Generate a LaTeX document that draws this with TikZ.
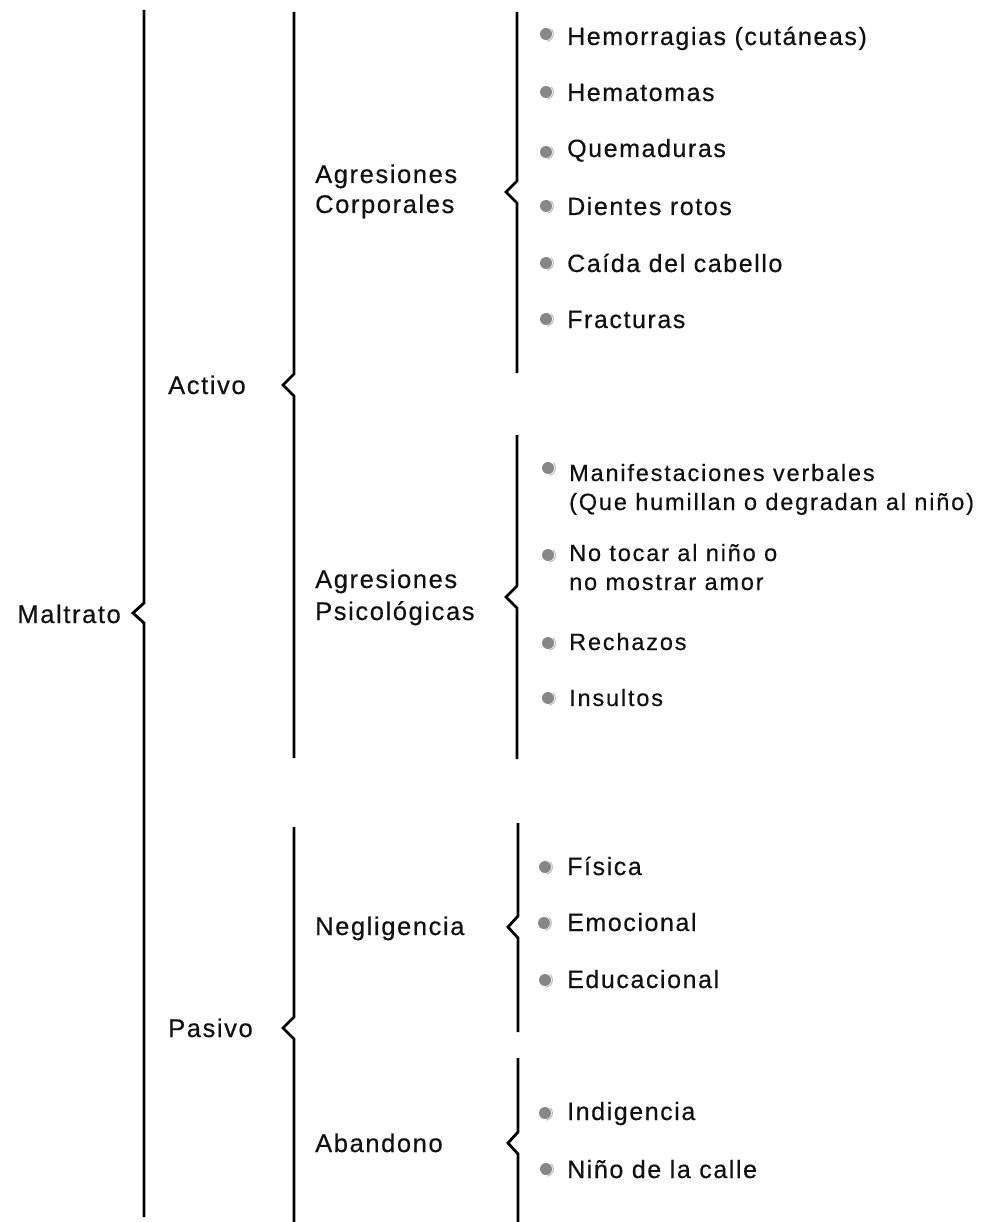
\documentclass[tikz,border=0pt]{standalone}
\usepackage{fontspec}
\newfontfamily\mf{Liberation Sans}[LetterSpace=6.3, FakeBold=0.5]
\newfontfamily\pf{Liberation Sans}[LetterSpace=7.8, FakeBold=0.5]
\definecolor{bulletgray}{HTML}{878787}
\definecolor{rimgray}{HTML}{BEBEBE}
\definecolor{inkc}{HTML}{111111}
\tikzset{
  bracel/.style={line width=2.8pt, line join=miter, draw=black},
  lbl/.style={anchor=base west, inner sep=0pt, text=inkc, font=\mf\fontsize{25.5}{30}\selectfont},
  itm/.style={anchor=base west, inner sep=0pt, text=inkc, font=\mf\fontsize{25}{30}\selectfont},
  pitm/.style={anchor=base west, inner sep=0pt, text=inkc, font=\pf\fontsize{23.5}{29}\selectfont},
  bul/.style={circle, fill=bulletgray, inner sep=0pt, minimum size=12pt},
  rimst/.style={draw=rimgray, line width=1.1pt}
}
\newcommand\bulat[3]{%
  \node[bul] (#1) at (#2,#3) {};
  \draw[rimst] (#1.center) ++(-45:7.4) arc[start angle=-45, end angle=80, radius=7.4];
}
\begin{document}
\begin{tikzpicture}[x=1pt,y=-1pt]
\useasboundingbox (0,0) rectangle (986,1222);

% ---- level 1
\node[lbl, anchor=base east] (maltrato) at (121,623) {Maltrato};
\draw[bracel] (144,10) -- (144,603) -- (133,613) -- (144,623) -- (144,1217);

% ---- level 2
\node[lbl] (activo) at (168,394) {Activo};
\node[lbl] (pasivo) at (168,1037) {Pasivo};
\draw[bracel] (294,12) -- (294,374) -- (283,385) -- (294,396) -- (294,758);
\draw[bracel] (294,827) -- (294,1017) -- (283,1028) -- (294,1039) -- (294,1222);

% ---- level 3
\node[lbl] (corp1) at (315,183) {Agresiones};
\node[lbl] (corp2) at (315,213) {Corporales};
\node[lbl] (psi1) at (315,588) {Agresiones};
\node[lbl] (psi2) at (315,620) {Psicológicas};
\node[lbl] (negl) at (315,935) {Negligencia};
\node[lbl] (aban) at (315,1152) {Abandono};

\draw[bracel] (517,12) -- (517,181) -- (506,192) -- (517,203) -- (517,373);
\draw[bracel] (517,435) -- (517,586) -- (506,597) -- (517,608) -- (517,759);
\draw[bracel] (518,823) -- (518,916) -- (508,927) -- (518,938) -- (518,1032);
\draw[bracel] (518,1058) -- (518,1132) -- (508,1143) -- (518,1154) -- (518,1222);

% ---- items: Agresiones Corporales
\bulat{bc1}{546}{34}
\node[itm] (c1) at (567,45) {Hemorragias (cutáneas)};
\bulat{bc2}{546}{92}
\node[itm] (c2) at (567,101) {Hematomas};
\bulat{bc3}{546}{152}
\node[itm] (c3) at (567,157) {Quemaduras};
\bulat{bc4}{546}{206}
\node[itm] (c4) at (567,215) {Dientes rotos};
\bulat{bc5}{546}{263}
\node[itm] (c5) at (567,272) {Caída del cabello};
\bulat{bc6}{546}{319}
\node[itm] (c6) at (567,328) {Fracturas};

% ---- items: Agresiones Psicologicas
\bulat{bp1}{548}{468}
\node[pitm] (p1a) at (569,481) {Manifestaciones verbales};
\node[pitm] (p1b) at (569,510) {(Que humillan o degradan al niño)};
\bulat{bp2}{548}{555}
\node[pitm] (p2a) at (569,561) {No tocar al niño o};
\node[pitm] (p2b) at (569,590) {no mostrar amor};
\bulat{bp3}{548}{643}
\node[pitm] (p3) at (569,650) {Rechazos};
\bulat{bp4}{548}{698}
\node[pitm] (p4) at (569,706) {Insultos};

% ---- items: Negligencia
\bulat{bn1}{545}{867}
\node[itm] (n1) at (567,875) {Física};
\bulat{bn2}{544}{923}
\node[itm] (n2) at (567,931) {Emocional};
\bulat{bn3}{545}{980}
\node[itm] (n3) at (567,988) {Educacional};

% ---- items: Abandono
\bulat{ba1}{545}{1113}
\node[itm] (a1) at (567,1120) {Indigencia};
\bulat{ba2}{546}{1169}
\node[itm] (a2) at (567,1178) {Niño de la calle};
\end{tikzpicture}
\end{document}
